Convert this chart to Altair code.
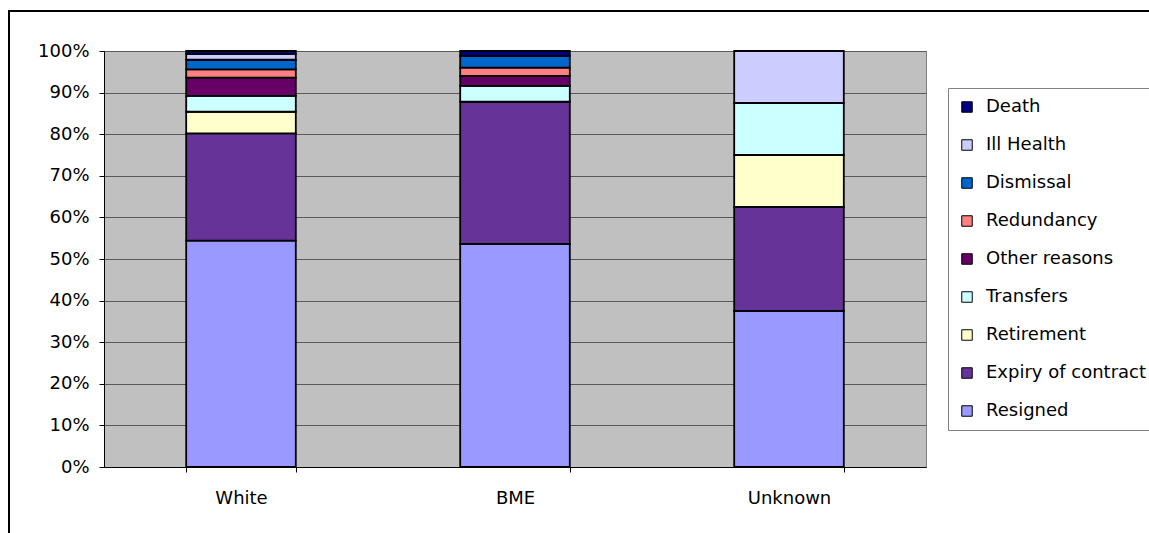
import altair as alt
import pandas as pd

# Leavers by ethnic group, share of each leaving reason (percent)
groups = ["White", "BME", "Unknown"]
reasons = ["Resigned", "Expiry of contract", "Retirement", "Transfers",
           "Other reasons", "Redundancy", "Dismissal", "Ill Health", "Death"]
white_pct = [54.4, 25.8, 5.2, 3.8, 4.4, 2.0, 2.3, 1.4, 0.7]
bme_pct = [53.6, 34.2, 0.0, 3.8, 2.4, 2.0, 2.8, 0.0, 1.2]
unknown_pct = [37.5, 25.0, 12.5, 12.5, 0.0, 0.0, 0.0, 12.5, 0.0]
reason_colors = ["#9999FF", "#663399", "#FFFFCC", "#CCFFFF", "#660066",
                 "#FF8080", "#0066CC", "#CCCCFF", "#000080"]

rows = []
for g, vals in zip(groups, [white_pct, bme_pct, unknown_pct]):
    for i, (r, v) in enumerate(zip(reasons, vals)):
        if v > 0:
            rows.append({"group": g, "reason": r, "pct": v, "stack_pos": i})
df = pd.DataFrame(rows)

legend_order = list(reversed(reasons))
legend_colors = list(reversed(reason_colors))
FONT = "DejaVu Sans"

bars = alt.Chart(df).mark_bar(stroke="black", strokeWidth=1.8).encode(
    x=alt.X(
        "group:N", sort=groups, title=None,
        scale=alt.Scale(paddingInner=0.6, paddingOuter=0.3),
        axis=alt.Axis(labelAngle=0, tickBand="extent", labelPadding=17,
                      domainColor="black", tickColor="black", tickSize=5),
    ),
    y=alt.Y(
        "pct:Q", stack="normalize", title=None,
        scale=alt.Scale(domain=[0, 1]),
        axis=alt.Axis(format=".0%", values=[i / 10 for i in range(11)],
                      grid=True, gridColor="#5a5a5a", gridWidth=1,
                      domainColor="black", tickColor="black", tickSize=5,
                      labelPadding=10),
    ),
    color=alt.Color(
        "reason:N",
        scale=alt.Scale(domain=legend_order, range=legend_colors),
        legend=alt.Legend(
            title=None, orient="none", legendX=844, legendY=37,
            padding=10, strokeColor="#808080", fillColor="white",
            symbolType="square", symbolSize=110, symbolStrokeColor="black",
            symbolStrokeWidth=1, labelFont=FONT, labelFontSize=18,
            labelColor="black", labelLimit=400, labelOffset=10,
            rowPadding=20,
        ),
    ),
    order=alt.Order("stack_pos:Q", sort="ascending"),
)

# Outer chart border
frame = alt.Chart(pd.DataFrame({"frame": [0]})).mark_rect(
    fillOpacity=0, stroke="black", strokeWidth=2
).encode(
    x=alt.value(-95), x2=alt.value(2000),
    y=alt.value(-40), y2=alt.value(1000),
)

chart = alt.layer(bars, frame).properties(
    width=822, height=416,
    padding={"left": 104, "top": 51, "right": 223, "bottom": 66},
    autosize=alt.AutoSizeParams(type="none"),
    background="white",
).configure_view(
    fill="#C0C0C0", stroke="#808080", strokeWidth=1
).configure_axis(
    labelFont=FONT, labelFontSize=18, labelColor="black"
)

chart.save("out.html", embed_options={"renderer": "svg", "actions": False})
